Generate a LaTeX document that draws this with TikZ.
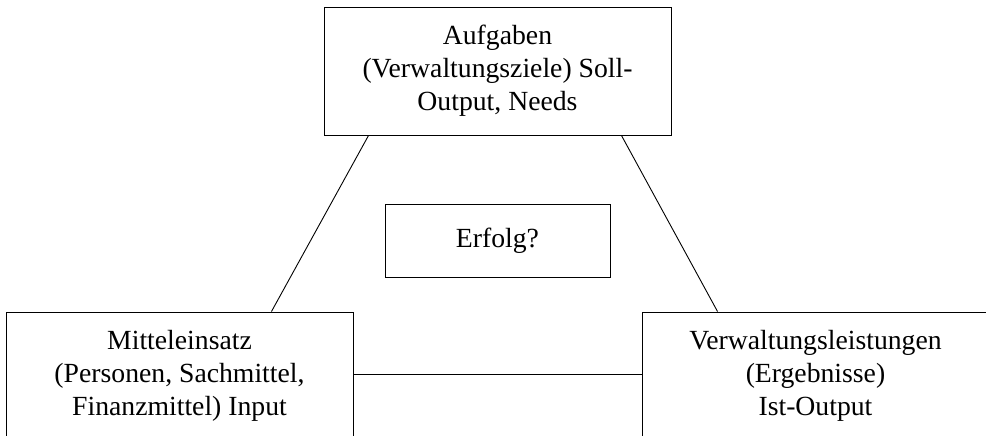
\documentclass[tikz,border=0pt]{standalone}
\usepackage{fontspec}
\setmainfont{Liberation Serif}
\begin{document}
\begin{tikzpicture}[x=1pt,y=1pt,
  bigbox/.style={draw,line width=0.9pt,minimum width=347pt,minimum height=128pt,inner sep=0pt,align=center,font=\fontsize{27.7}{33}\selectfont},
  smallbox/.style={draw,line width=0.9pt,minimum width=225pt,minimum height=73pt,inner sep=0pt,align=center,font=\fontsize{27.7}{33}\selectfont},
  link/.style={line width=0.9pt}]
\useasboundingbox (0,0) rectangle (986,436);
\node[bigbox] (top) at (497.5,365) {Aufgaben\\(Verwaltungsziele) Soll-\\Output, Needs};
\node[smallbox] (mid) at (497.5,195.5) {Erfolg?};
\node[bigbox] (left) at (179.5,60) {Mitteleinsatz\\(Personen, Sachmittel,\\Finanzmittel) Input};
\node[bigbox] (right) at (815.5,60) {Verwaltungsleistungen\\(Ergebnisse)\\Ist-Output};
\draw[link] ([xshift=45pt]top.south west) -- ([xshift=-82pt]left.north east);
\draw[link] ([xshift=-50pt]top.south east) -- ([xshift=76pt]right.north west);
\draw[link] ([yshift=1.7pt]left.east) -- ([yshift=1.7pt]right.west);
\end{tikzpicture}
\end{document}
